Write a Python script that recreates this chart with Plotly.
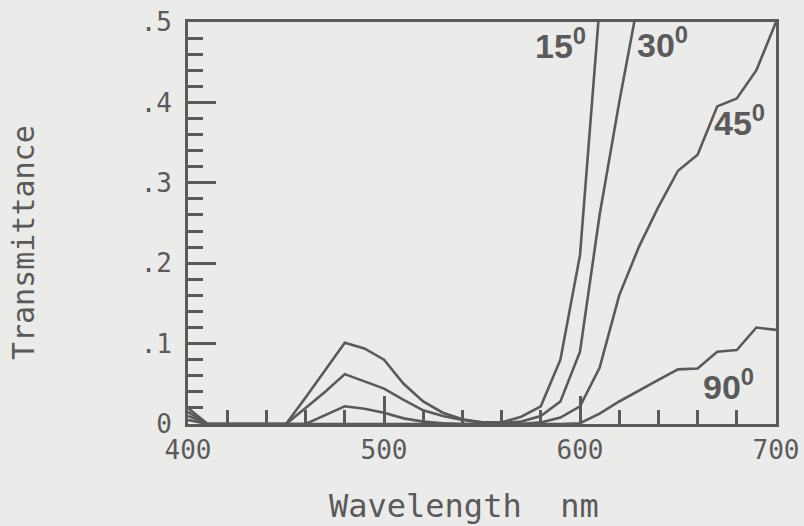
import plotly.graph_objects as go

# ---- data ----
wavelength = [400, 410, 420, 430, 440, 450, 460, 470, 480, 490, 500,
              510, 520, 530, 540, 550, 560, 570, 580, 590, 600,
              610, 620, 630, 640, 650, 660, 670, 680, 690, 700]

t15 = [0.020, 0.0, 0.0, 0.0, 0.0, 0.0, 0.033, 0.067, 0.101, 0.094, 0.080,
       0.050, 0.028, 0.014, 0.006, 0.002, 0.002, 0.009, 0.022, 0.080, 0.210,
       0.520, None, None, None, None, None, None, None, None, None]

t30 = [0.015, 0.0, 0.0, 0.0, 0.0, 0.0, 0.020, 0.040, 0.062, 0.053, 0.044,
       0.030, 0.017, 0.010, 0.005, 0.002, 0.001, 0.003, 0.010, 0.028, 0.090,
       0.260, 0.400, 0.530, None, None, None, None, None, None, None]

t45 = [0.010, 0.0, 0.0, 0.0, 0.0, 0.0, 0.0, 0.011, 0.022, 0.019, 0.014,
       0.007, 0.003, 0.001, 0.0, 0.0, 0.0, 0.0, 0.002, 0.008, 0.022,
       0.070, 0.160, 0.220, 0.270, 0.315, 0.335, 0.395, 0.405, 0.440, 0.500]

t90 = [0.005, 0.0, 0.0, 0.0, 0.0, 0.0, 0.0, 0.0, 0.0, 0.0, 0.0,
       0.0, 0.0, 0.0, 0.0, 0.0, 0.0, 0.0, 0.0, 0.0, 0.001,
       0.013, 0.028, 0.042, 0.055, 0.068, 0.069, 0.090, 0.092, 0.120, 0.117]

series_names = ["15", "30", "45", "90"]
series_values = [t15, t30, t45, t90]

# label anchor positions (wavelength, transmittance)
label_x = [576, 628, 667.5, 661.5]
label_y = [0.473, 0.474, 0.378, 0.049]

x_tickvals = [400, 500, 600, 700]
x_ticktext = ["400", "500", "600", "700"]
y_tickvals = [0, 0.1, 0.2, 0.3, 0.4, 0.5]
y_ticktext = ["0", ".1", ".2", ".3", ".4", ".5"]

x_title = "Wavelength\u00a0\u00a0nm"
y_title = "Transmittance"

INK = "#5a5a5a"
BG = "#ebebea"
MONO = "DejaVu Sans Mono"

fig = go.Figure()
for name, vals in zip(series_names, series_values):
    fig.add_trace(go.Scatter(
        x=wavelength, y=vals, mode="lines", name=name,
        line=dict(color=INK, width=2.6), connectgaps=False,
        showlegend=False, hoverinfo="x+y",
    ))

for name, lx, ly in zip(series_names, label_x, label_y):
    fig.add_annotation(
        x=lx, y=ly, xref="x", yref="y",
        text=f"<b>{name}<sup>0</sup></b>",
        showarrow=False, xanchor="left", yanchor="middle",
        font=dict(family="Liberation Sans, Arial, sans-serif", size=34, color=INK),
    )

# axis titles as annotations for precise placement
fig.add_annotation(
    x=0.47, y=0, xref="paper", yref="paper", yshift=-82,
    text=x_title, showarrow=False, xanchor="center", yanchor="middle",
    font=dict(family=MONO, size=32, color=INK),
)
fig.add_annotation(
    x=0, y=0.45, xref="paper", yref="paper", xshift=-165,
    text=y_title, textangle=-90, showarrow=False,
    xanchor="center", yanchor="middle",
    font=dict(family=MONO, size=30, color=INK),
)

axis_common = dict(
    showline=True, linecolor=INK, linewidth=2.6, mirror=True,
    showgrid=False, zeroline=False, automargin=False,
    ticks="inside", tickcolor=INK, tickwidth=2.6, ticklen=28,
    tickfont=dict(family=MONO, size=26, color=INK),
)

fig.update_xaxes(
    range=[400, 700], tickmode="array", tickvals=x_tickvals, ticktext=x_ticktext,
    minor=dict(ticks="inside", ticklen=14, tickwidth=2.6, tickcolor=INK,
               dtick=20, tick0=400),
    ticklabelstandoff=1,
    **axis_common,
)
fig.update_yaxes(
    range=[0, 0.5], tickmode="array", tickvals=y_tickvals, ticktext=y_ticktext,
    minor=dict(ticks="inside", ticklen=15, tickwidth=2.6, tickcolor=INK,
               dtick=0.02, tick0=0),
    ticklabelstandoff=8,
    **axis_common,
)

fig.update_layout(
    width=804, height=526,
    margin=dict(l=188, r=28, t=22, b=102, autoexpand=False),
    paper_bgcolor=BG, plot_bgcolor=BG,
    showlegend=False,
)

fig.write_html(
    "out.html",
    config={"displayModeBar": False},
    post_script="document.body.style.margin='0';"
                "document.body.style.background='#ebebea';"
                "document.body.style.overflow='hidden';",
)
